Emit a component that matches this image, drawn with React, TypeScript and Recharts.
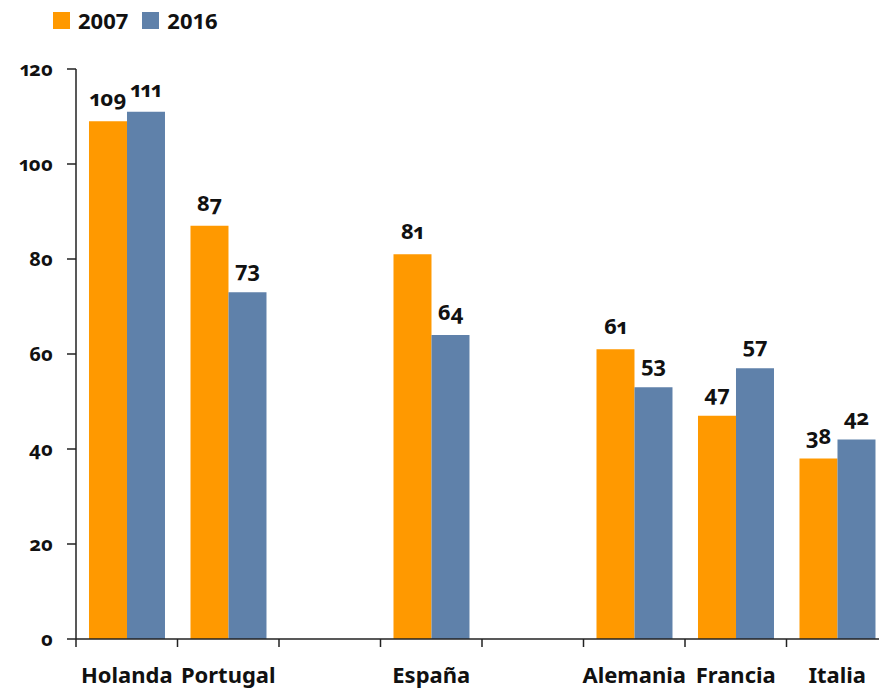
import React from 'react';
import { BarChart, Bar, XAxis, YAxis, Legend, LabelList } from 'recharts';

const categories = ['Holanda', 'Portugal', '', 'España', '', 'Alemania', 'Francia', 'Italia'];
const values2007 = [109, 87, null, 81, null, 61, 47, 38];
const values2016 = [111, 73, null, 64, null, 53, 57, 42];
const yTicks = [0, 20, 40, 60, 80, 100, 120];
const edgeTicks = [0, 1, 2, 3, 4, 5, 6, 7, 8];

const FONT = "'Noto Sans', 'Open Sans', sans-serif";
const ORANGE = '#FF9900';
const BLUE = '#5F81AA';
const AXIS = '#222222';

const data = categories.map((name, i) => ({
    name,
    idx: i + 0.5,
    y2007: values2007[i],
    y2016: values2016[i],
}));

const renderLegend = (props: any) => {
    const { payload } = props;
    return (
        <div style={{ display: 'flex', alignItems: 'center', fontFamily: FONT, fontWeight: 700, fontSize: 22, lineHeight: '22px', color: '#111' }}>
            {(payload || []).map((p: any) => (
                <div key={p.value} style={{ display: 'flex', alignItems: 'center', marginRight: 14 }}>
                    <span style={{ display: 'inline-block', width: 17, height: 17, background: p.color, marginRight: 8 }} />
                    <span>{p.value}</span>
                </div>
            ))}
        </div>
    );
};

const fmt = (v: any) => (v == null ? '' : v);

const App: React.FC = () => {
    return (
        <div className="chart" style={{ position: 'absolute', left: 0, top: 0, width: 879, height: 690, overflow: 'hidden', background: '#fff' }}>
            <style>{`.chart text { font-variant-numeric: oldstyle-nums proportional-nums; }`}</style>
            <BarChart
                width={900}
                height={690}
                data={data}
                margin={{ top: 69, right: 12, bottom: 0, left: 0 }}
                barCategoryGap="12.8%"
                barGap={0}
            >
                {/* category labels */}
                <XAxis
                    xAxisId="b"
                    dataKey="name"
                    height={50}
                    axisLine={false}
                    tickLine={false}
                    tickSize={0}
                    tickMargin={27}
                    interval={0}
                    tick={{ fill: '#111', fontSize: 22, fontWeight: 700, fontFamily: FONT }}
                />
                {/* baseline with tick marks between the categories */}
                <XAxis
                    xAxisId="a"
                    type="number"
                    dataKey="idx"
                    domain={[0, 8]}
                    ticks={edgeTicks}
                    interval={0}
                    allowDataOverflow
                    height={1}
                    tickSize={8}
                    tickFormatter={() => ''}
                    axisLine={{ stroke: AXIS, strokeWidth: 1.5 }}
                    tickLine={{ stroke: AXIS, strokeWidth: 1.5 }}
                />
                <YAxis
                    width={76}
                    domain={[0, 120]}
                    ticks={yTicks}
                    interval={0}
                    tickSize={9}
                    tickMargin={14}
                    axisLine={{ stroke: AXIS, strokeWidth: 1.5 }}
                    tickLine={{ stroke: AXIS, strokeWidth: 1.5 }}
                    tick={{ fill: '#111', fontSize: 20, fontWeight: 700, fontFamily: FONT }}
                />
                <Legend
                    layout="horizontal"
                    verticalAlign="middle"
                    align="center"
                    wrapperStyle={{ top: 9, left: 53, width: 'auto' }}
                    content={renderLegend}
                />
                <Bar xAxisId="b" dataKey="y2007" name="2007" fill={ORANGE} isAnimationActive={false}>
                    <LabelList dataKey="y2007" position="top" offset={15} formatter={fmt} fill="#111" fontSize={22} fontWeight={700} fontFamily={FONT} />
                </Bar>
                <Bar xAxisId="b" dataKey="y2016" name="2016" fill={BLUE} isAnimationActive={false}>
                    <LabelList dataKey="y2016" position="top" offset={15} formatter={fmt} fill="#111" fontSize={22} fontWeight={700} fontFamily={FONT} />
                </Bar>
            </BarChart>
        </div>
    );
};

export default App;
